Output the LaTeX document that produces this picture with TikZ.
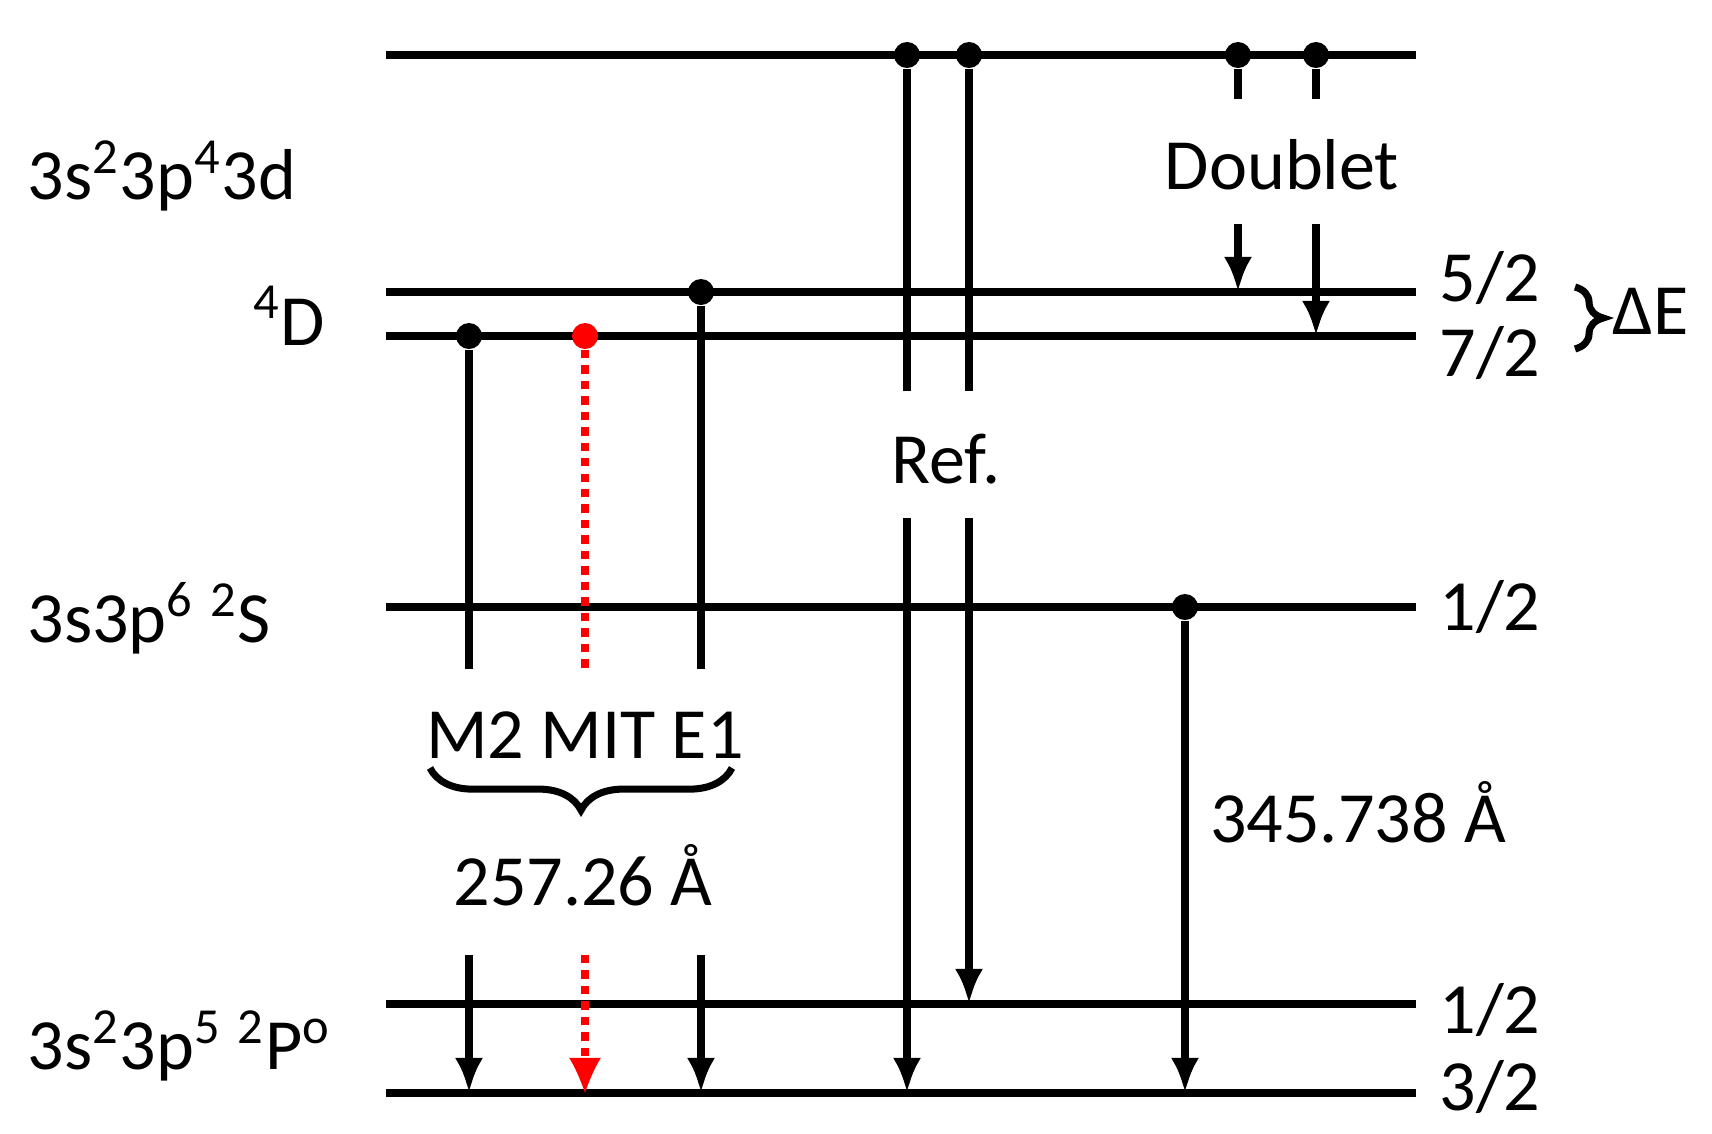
\documentclass[tikz,border=0pt]{standalone}
\usepackage{fontspec}
\setmainfont{Carlito}
\usetikzlibrary{arrows.meta,decorations.pathreplacing}
\begin{document}
\begin{tikzpicture}[x=0.01cm,y=-0.01cm,
    lvl/.style={line width=2.1pt},
    trans/.style={line width=2.1pt,-{Latex[length=10pt,width=8pt]}},
    seg/.style={line width=2.1pt},
    dot/.style={circle,fill,inner sep=0pt,minimum size=0.26cm},
    lbl/.style={font=\fontsize{20.5}{24}\selectfont,inner sep=0pt}]
    \useasboundingbox (0,0) rectangle (1712,1133);

    % Niveaus
    \foreach \nm/\y in {top/55,fa/292,fb/336,s/607,pa/1004,pb/1093} {
        \coordinate (\nm L) at (386,\y);
        \coordinate (\nm R) at (1416,\y);
        \draw[lvl] (\nm L) -- (\nm R);
    }

    % Beschriftungen links
    \node[lbl,anchor=west] (cfgd) at (27,176) {3s\textsuperscript{2}3p\textsuperscript{4}3d};
    \node[lbl,anchor=east] (termd) at (326,316) {\textsuperscript{4}D};
    \node[lbl,anchor=west] (cfgs) at (27,618) {3s3p\textsuperscript{6} \textsuperscript{2}S};
    \node[lbl,anchor=west] (cfgp) at (27,1046) {3s\textsuperscript{2}3p\textsuperscript{5} \textsuperscript{2}P\textsuperscript{o}};

    % Beschriftungen rechts
    \foreach \nm/\y/\t in {ja/278/5\slash 2,jb/353/7\slash 2,js/607/1\slash 2,jpa/1010/1\slash 2,jpb/1087/3\slash 2}
        \node[lbl] (\nm) at (1490,\y) {\t};
    \draw[line width=2pt,decorate,decoration={brace,amplitude=8pt}]
        (1575,287) -- (1575,349);
    \node[lbl,anchor=west] (dE) at (1612,311) {ΔE};

    % Übergänge 4D -> 2P
    \foreach \nm/\x/\y in {mz/469/336,ee/701/292} {
        \node[dot] (\nm) at (\x,\y) {};
        \coordinate (\nm a) at (\x,669);
        \coordinate (\nm b) at (\x,955);
        \coordinate (\nm c) at (\x,1093);
        \draw[seg] (\nm) -- (\nm a);
        \draw[trans] (\nm b) -- (\nm c);
    }
    \node[dot,red] (mit) at (585,336) {};
    \coordinate (mita) at (585,669);
    \coordinate (mitb) at (585,955);
    \coordinate (mitc) at (585,1093);
    \draw[red,dotted,line width=2.4pt] (mit) -- (mita);
    \draw[red,dotted,line width=2.4pt,-{Latex[length=10pt,width=9pt,line width=0pt]}] (mitb) -- (mitc);
    \node[lbl] (trlbl) at (585,735) {M2 MIT E1};
    \draw[line width=2pt,decorate,decoration={brace,amplitude=12pt}]
        (732,768) -- (430,768);
    \node[lbl] (wl) at (583,875) {257.26 Å};

    % Referenz
    \node[dot] (rfa) at (907,55) {};
    \node[dot] (rfb) at (969,55) {};
    \coordinate (rfa1) at (907,391); \coordinate (rfa2) at (907,518); \coordinate (rfa3) at (907,1093);
    \coordinate (rfb1) at (969,391); \coordinate (rfb2) at (969,518); \coordinate (rfb3) at (969,1004);
    \draw[seg] (rfa) -- (rfa1);
    \draw[seg] (rfb) -- (rfb1);
    \draw[trans] (rfa2) -- (rfa3);
    \draw[trans] (rfb2) -- (rfb3);
    \node[lbl] (ref) at (946,459) {Ref.};

    % 2S -> 2P
    \node[dot] (sp) at (1185,607) {};
    \coordinate (spe) at (1185,1093);
    \draw[trans] (sp) -- (spe);
    \node[lbl] (wls) at (1358,812) {345.738 Å};

    % Dublett
    \node[dot] (dba) at (1238,55) {};
    \node[dot] (dbb) at (1316,55) {};
    \coordinate (dba1) at (1238,99); \coordinate (dba2) at (1238,224); \coordinate (dba3) at (1238,292);
    \coordinate (dbb1) at (1316,99); \coordinate (dbb2) at (1316,224); \coordinate (dbb3) at (1316,336);
    \draw[seg] (dba) -- (dba1);
    \draw[seg] (dbb) -- (dbb1);
    \draw[trans] (dba2) -- (dba3);
    \draw[trans] (dbb2) -- (dbb3);
    \node[lbl] (dbl) at (1282,165) {Doublet};
\end{tikzpicture}
\end{document}
